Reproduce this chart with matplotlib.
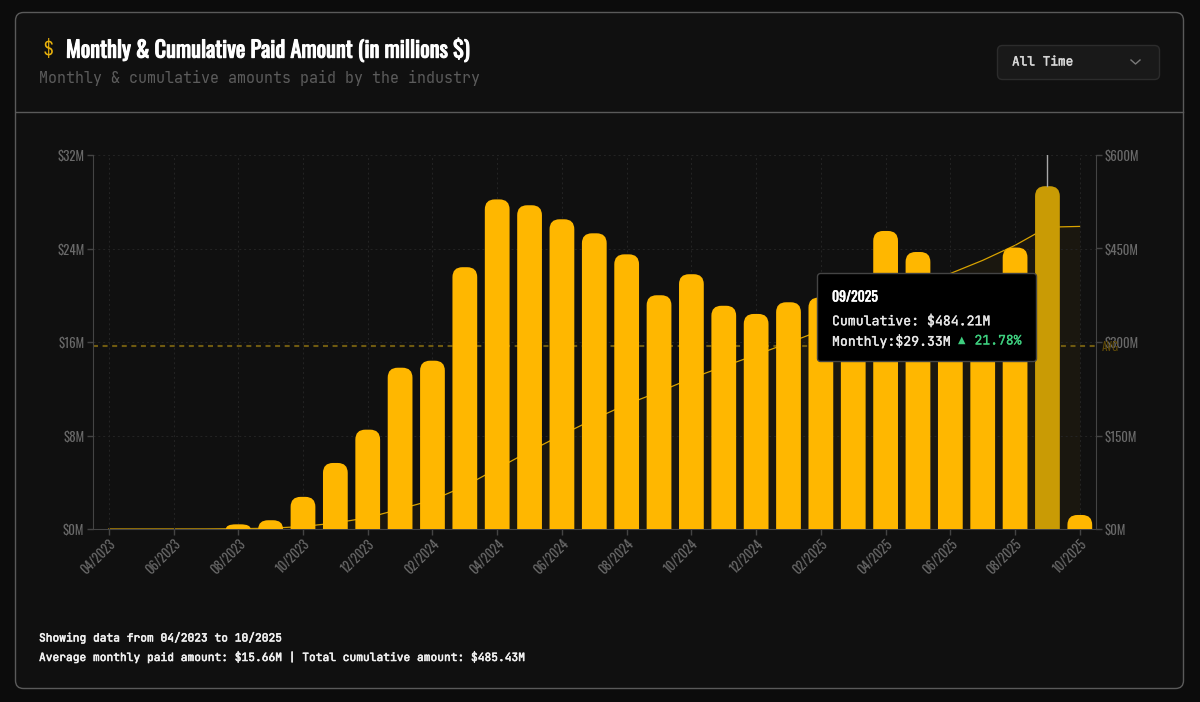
import matplotlib
matplotlib.use('Agg')
import matplotlib.pyplot as plt
import matplotlib.patheffects as pe
from matplotlib.patches import FancyBboxPatch, PathPatch
from matplotlib.path import Path

# month labels, every month from 04/2023 to 10/2025
months = ['04/2023', '05/2023', '06/2023', '07/2023', '08/2023', '09/2023', '10/2023', '11/2023',
          '12/2023', '01/2024', '02/2024', '03/2024', '04/2024', '05/2024', '06/2024', '07/2024',
          '08/2024', '09/2024', '10/2024', '11/2024', '12/2024', '01/2025', '02/2025', '03/2025',
          '04/2025', '05/2025', '06/2025', '07/2025', '08/2025', '09/2025', '10/2025']
monthly = [0.0, 0.02, 0.03, 0.05, 0.4, 0.75, 2.75, 5.65, 8.5, 13.8, 14.4, 22.4, 28.2, 27.7, 26.5, 25.3,
           23.5, 20.0, 21.8, 19.1, 18.4, 19.4, 19.8, 21.15, 25.5, 23.7, 21.1, 21.1, 24.08, 29.33, 1.2]
cumulative = [0.0, 0.02, 0.05, 0.1, 0.5, 1.25, 4.0, 9.65, 18.15, 31.95, 46.35, 68.75, 96.95, 124.65,
              151.15, 176.45, 199.95, 219.95, 241.75, 260.85, 279.25, 298.65, 318.45, 339.6, 365.1,
              388.8, 409.9, 431.0, 455.1, 484.21, 485.43]
left_ticks = [0, 8, 16, 24, 32]
left_labels = ['$0M', '$8M', '$16M', '$24M', '$32M']
right_ticks = [0, 150, 300, 450, 600]
right_labels = ['$0M', '$150M', '$300M', '$450M', '$600M']
avg_value = 15.66
hover_month = '09/2025'

W, H = 1200, 702
BG = '#0c0c0c'
CARD = '#101010'
AMBER = '#ffb700'
AMBER_DIM = '#c99b05'
TICK = '#6a6a6a'
MONO = ['JetBrains Mono', 'DejaVu Sans Mono']
COND = ['Oswald', 'Liberation Sans']


def thicken(txt, amount, color):
    # the variable fonts only give the regular weight, so fatten with a thin stroke
    txt.set_path_effects([pe.withStroke(linewidth=amount, foreground=color)])


fig = plt.figure(figsize=(12, 7.02), dpi=100, facecolor=BG)

# overlay in pixel coords for the card and header
bg = fig.add_axes([0, 0, 1, 1], zorder=0)
bg.set_xlim(0, W)
bg.set_ylim(H, 0)
bg.axis('off')
bg.add_patch(FancyBboxPatch((15.5, 12.5), 1168, 676, boxstyle='round,pad=0,rounding_size=8',
                            fc=CARD, ec='#5a5a5a', lw=1))
bg.plot([16, 1183], [112, 112], color='#5a5a5a', lw=1)
bg.text(48, 49, '$', color='#e8b10c', fontsize=13.5, family=MONO, ha='center', va='center', parse_math=False)
title = bg.text(66, 50, 'Monthly & Cumulative Paid Amount (in millions $)', color='white', fontsize=16.1,
                family=COND, va='center', parse_math=False)
thicken(title, 0.8, 'white')
bg.text(39, 77.5, 'Monthly & cumulative amounts paid by the industry', color='#5c5c5c', fontsize=10.82,
        family=MONO, va='center')
bg.add_patch(FancyBboxPatch((997.5, 45.5), 162, 34, boxstyle='round,pad=0,rounding_size=5',
                            fc='#191919', ec='#2c2c2c', lw=1))
thicken(bg.text(1012, 62, 'All Time', color='#d8d8d8', fontsize=9.2, family=MONO, va='center'), 0.3, '#d8d8d8')
bg.plot([1131, 1135.5, 1140], [60, 64, 60], color='#7a7a7a', lw=1)
thicken(bg.text(39, 638, 'Showing data from 04/2023 to 10/2025', color='#f0f0f0', fontsize=8.1, family=MONO,
                va='center'), 0.4, '#f0f0f0')
thicken(bg.text(39, 657, 'Average monthly paid amount: $15.66M | Total cumulative amount: $485.43M',
                color='#f0f0f0', fontsize=8.1, family=MONO, va='center', parse_math=False), 0.4, '#f0f0f0')

# plot area 92..1096 x, 155..529 y
ax = fig.add_axes([92.6 / W, 1 - 529 / H, (1096 - 92.6) / W, (529 - 155) / H], zorder=1)
ax.patch.set_alpha(0)
ax.set_xlim(-0.5, 30.5)
ax.set_ylim(0, 32)
x = list(range(len(months)))

ax.grid(True, color='#242424', lw=0.7, ls=(0, (2, 3)))
ax.set_axisbelow(True)
ax.set_xticks(x[::2])
ax.set_xticklabels(months[::2], rotation=45, ha='right', rotation_mode='anchor', family=COND,
                   fontsize=9.2, color=TICK)
ax.set_yticks(left_ticks)
ax.set_yticklabels(left_labels, family=COND, fontsize=9.3, color=TICK)
ax.tick_params(axis='both', color='#444444', length=4, width=1, pad=2)
for s in ['top', 'right']:
    ax.spines[s].set_visible(False)
for s in ['left', 'bottom']:
    ax.spines[s].set_color('#444444')

ax2 = ax.twinx()
ax2.set_ylim(0, 600)
ax2.set_yticks(right_ticks)
ax2.set_yticklabels(right_labels, family=COND, fontsize=9.3, color=TICK)
ax2.tick_params(axis='y', color='#444444', length=4, width=1, pad=2)
for s in ['top', 'left', 'bottom']:
    ax2.spines[s].set_visible(False)
ax2.spines['right'].set_color('#444444')
ax2.set_zorder(1)
ax.set_zorder(2)
ax.patch.set_alpha(0)

# cumulative line sits behind the bars
ax2.fill_between(x, cumulative, color=AMBER, alpha=0.045, lw=0)
ax2.plot(x, cumulative, color='#d9a300', lw=0.9)

ax.axhline(avg_value, color='#6f5a10', lw=1.5, ls=(0, (2.4, 2.2)), zorder=1.5)
ax.text(30.68, avg_value - 0.1, 'AVG', color='#5f4a08', fontsize=8, family=COND, va='center', clip_on=False)


def rounded_bar(axis, xpos, h, color, width=0.765, radius_px=10):
    # bar with only the top corners rounded
    per_x = 31 / (1096 - 92.6)
    per_y = 32 / 374
    rx = min(radius_px * per_x, width / 2)
    ry = min(radius_px * per_y, h)
    l, r = xpos - width / 2, xpos + width / 2
    verts = [(l, 0), (l, h - ry), (l, h), (l + rx, h), (r - rx, h), (r, h), (r, h - ry), (r, 0), (l, 0)]
    codes = [Path.MOVETO, Path.LINETO, Path.CURVE3, Path.CURVE3, Path.LINETO, Path.CURVE3, Path.CURVE3,
             Path.LINETO, Path.CLOSEPOLY]
    axis.add_patch(PathPatch(Path(verts, codes), fc=color, ec='none', zorder=3))


for xi, val, m in zip(x, monthly, months):
    if val >= 0.1:
        rounded_bar(ax, xi, val, AMBER_DIM if m == hover_month else AMBER)

# hover cursor above the highlighted bar
hi = months.index(hover_month)
ax.plot([hi, hi], [monthly[hi], 32], color='#a8a8a8', lw=1, zorder=4)

# tooltip on top of everything
fg = fig.add_axes([0, 0, 1, 1], zorder=5)
fg.set_xlim(0, W)
fg.set_ylim(H, 0)
fg.axis('off')
fg.patch.set_alpha(0)
fg.add_patch(FancyBboxPatch((817.5, 273.5), 219, 88, boxstyle='round,pad=0,rounding_size=3',
                            fc='#000000', ec='#444444', lw=1))
thicken(fg.text(832, 297, hover_month, color='white', fontsize=9.9, family=COND, va='center'), 0.4, 'white')
thicken(fg.text(832, 321, 'Cumulative: $484.21M', color='#e8e8e8', fontsize=9.5, family=MONO, va='center',
                parse_math=False), 0.25, '#e8e8e8')
thicken(fg.text(832, 341, 'Monthly:$29.33M', color='#e8e8e8', fontsize=9.5, family=MONO, va='center',
                parse_math=False), 0.25, '#e8e8e8')
fg.text(962, 340, '▲', color='#3ecf7f', fontsize=7, family='DejaVu Sans', ha='center', va='center')
thicken(fg.text(974.5, 341, '21.78%', color='#3ecf7f', fontsize=9.4, family=MONO, va='center'), 0.2, '#3ecf7f')

fig.savefig('out.png', dpi=100, facecolor=BG)
